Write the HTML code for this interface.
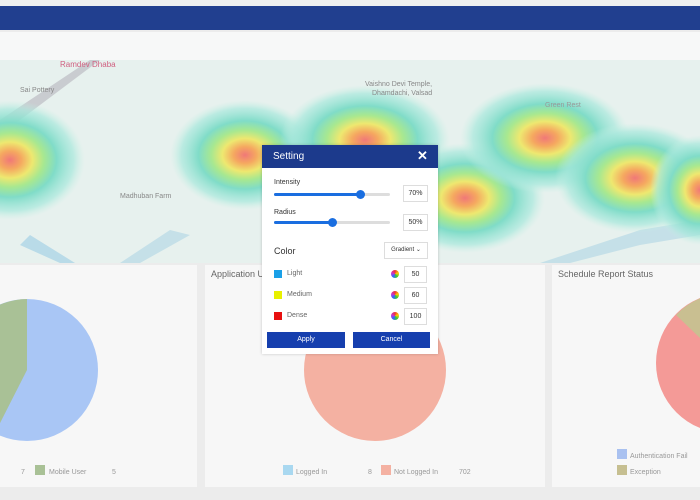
<!DOCTYPE html>
<html><head><style>
body{margin:0;width:700px;height:500px;overflow:hidden;background:#ececec;font-family:"Liberation Sans",sans-serif;position:relative}
.a{position:absolute}
.t{color:#666;font-size:9px}
</style></head><body>
<div class="a" style="left:0;top:0;width:700px;height:6px;background:#eef0f0"></div>
<div class="a" style="left:0;top:6px;width:700px;height:24px;background:#213f8f"></div>
<div class="a" style="left:0;top:32px;width:700px;height:28px;background:#f7f8f8"></div>
<svg class="a" style="left:0;top:60px" width="700" height="203">
<defs>
<radialGradient id="h"><stop offset="0" stop-color="#f07878"/><stop offset="0.15" stop-color="#f5a860"/><stop offset="0.3" stop-color="#eee870"/><stop offset="0.45" stop-color="#a8e890"/><stop offset="0.62" stop-color="#80dcc8"/><stop offset="0.85" stop-color="#a8e8dc" stop-opacity="0.7"/><stop offset="1" stop-color="#c8f0e4" stop-opacity="0"/></radialGradient>
</defs>
<rect width="700" height="203" fill="#e7f1ee"/>
<path d="M0 60 L90 0 L100 0 L0 75Z" fill="#c9ccd0"/>
<path d="M20 185 L60 203 L75 203 L30 175Z" fill="#b9dbe8"/>
<path d="M120 203 L170 170 L190 175 L140 203Z" fill="#c5e0e8"/>
<path d="M540 203 L640 170 L700 160 L700 175 L640 185 L570 203Z" fill="#c5e0e8"/>
<ellipse cx="10" cy="100" rx="75" ry="60" fill="url(#h)"/>
<ellipse cx="245" cy="95" rx="75" ry="55" fill="url(#h)"/>
<ellipse cx="365" cy="80" rx="85" ry="55" fill="url(#h)"/>
<ellipse cx="465" cy="138" rx="80" ry="55" fill="url(#h)"/>
<ellipse cx="545" cy="78" rx="85" ry="55" fill="url(#h)"/>
<ellipse cx="635" cy="118" rx="80" ry="55" fill="url(#h)"/>
<ellipse cx="700" cy="130" rx="50" ry="55" fill="url(#h)"/>
<text x="60" y="7" font-size="8" fill="#d06080" font-family="Liberation Sans">Ramdev Dhaba</text>
<text x="20" y="32" font-size="7" fill="#888" font-family="Liberation Sans">Sai Pottery</text>
<text x="120" y="138" font-size="7" fill="#888" font-family="Liberation Sans">Madhuban Farm</text>
<text x="365" y="26" font-size="7" fill="#888" font-family="Liberation Sans">Vaishno Devi Temple,</text>
<text x="372" y="35" font-size="7" fill="#888" font-family="Liberation Sans">Dhamdachi, Valsad</text>
<text x="545" y="47" font-size="7" fill="#999" font-family="Liberation Sans">Green Rest</text>
</svg>
<div class="a" style="left:0;top:265px;width:197px;height:222px;background:#f7f7f7"></div>
<div class="a" style="left:205px;top:265px;width:340px;height:222px;background:#f7f7f7"></div>
<div class="a" style="left:552px;top:265px;width:148px;height:222px;background:#f7f7f7"></div>
<div class="a t" style="left:211px;top:269px;font-size:9px">Application Usage</div>
<div class="a t" style="left:558px;top:269px;font-size:9px">Schedule Report Status</div>
<svg class="a" style="left:0;top:265px" width="700" height="222">
<circle cx="27" cy="105" r="71" fill="#a9c6f5"/>
<path d="M27 105 L27 34 A71 71 0 0 0 -5 168 Z" fill="#a9c196"/>
<circle cx="375" cy="105" r="71" fill="#f4b1a2"/>
<line x1="375" y1="34" x2="375" y2="65" stroke="#fff" stroke-width="1"/>
<circle cx="726" cy="98" r="70" fill="#f49a97"/>
<path d="M726 98 L726 28 A70 70 0 0 0 676 50 Z" fill="#c9bf91"/>
<rect x="35" y="200" width="10" height="10" fill="#a9c196"/>
<rect x="283" y="200" width="10" height="10" fill="#a9d8f0"/>
<rect x="381" y="200" width="10" height="10" fill="#f4b1a2"/>
<rect x="617" y="184" width="10" height="10" fill="#a9c1f0"/>
<rect x="617" y="200" width="10" height="10" fill="#c6bf91"/>
<g font-family="Liberation Sans" font-size="7" fill="#999">
<text x="21" y="209">7</text><text x="49" y="209">Mobile User</text><text x="112" y="209">5</text>
<text x="296" y="209">Logged In</text><text x="368" y="209">8</text><text x="394" y="209">Not Logged In</text><text x="459" y="209">702</text>
<text x="630" y="193">Authentication Fail</text><text x="630" y="209">Exception</text>
</g>
</svg>
<div class="a" style="left:262px;top:145px;width:176px;height:209px;background:#fff;box-shadow:0 0 3px rgba(0,0,0,.2)"></div>
<div class="a" style="left:262px;top:145px;width:176px;height:23px;background:#1c3a8c"></div>
<div class="a" style="left:273px;top:151px;color:#fff;font-size:10px">Setting</div>
<div class="a" style="left:417px;top:148px;color:#fff;font-size:13px;font-weight:bold">✕</div>
<div class="a" style="left:274px;top:179px;font-size:7px;color:#333">Intensity</div>
<div class="a" style="left:274px;top:193px;width:116px;height:3px;background:#ddd;border-radius:2px"></div>
<div class="a" style="left:274px;top:193px;width:86px;height:3px;background:#1a6ee0;border-radius:2px"></div>
<div class="a" style="left:356px;top:190px;width:9px;height:9px;background:#1a6ee0;border-radius:50%"></div>
<div class="a" style="left:403px;top:185px;width:23px;height:15px;border:1px solid #ddd;font-size:7px;line-height:15px;text-align:center;color:#333">70%</div>
<div class="a" style="left:274px;top:209px;font-size:7px;color:#333">Radius</div>
<div class="a" style="left:274px;top:221px;width:116px;height:3px;background:#ddd;border-radius:2px"></div>
<div class="a" style="left:274px;top:221px;width:58px;height:3px;background:#1a6ee0;border-radius:2px"></div>
<div class="a" style="left:328px;top:218px;width:9px;height:9px;background:#1a6ee0;border-radius:50%"></div>
<div class="a" style="left:403px;top:214px;width:23px;height:15px;border:1px solid #ddd;font-size:7px;line-height:15px;text-align:center;color:#333">50%</div>
<div class="a" style="left:274px;top:246px;font-size:9px;color:#333">Color</div>
<div class="a" style="left:384px;top:242px;width:42px;height:15px;border:1px solid #ddd;font-size:6px;line-height:15px;text-align:center;color:#333">Gradient ⌄</div>
<div class="a" style="left:274px;top:270px;width:8px;height:8px;background:#1aa0e8"></div>
<div class="a" style="left:274px;top:291px;width:8px;height:8px;background:#e8f000"></div>
<div class="a" style="left:274px;top:312px;width:8px;height:8px;background:#e81010"></div>
<div class="a" style="left:287px;top:270px;font-size:7px;color:#666">Light</div>
<div class="a" style="left:287px;top:291px;font-size:7px;color:#666">Medium</div>
<div class="a" style="left:287px;top:312px;font-size:7px;color:#666">Dense</div>
<div class="a" style="left:391px;top:270px;width:8px;height:8px;border-radius:50%;background:conic-gradient(#e33,#fc0,#3c3,#36f,#c3c,#e33)"></div>
<div class="a" style="left:391px;top:291px;width:8px;height:8px;border-radius:50%;background:conic-gradient(#e33,#fc0,#3c3,#36f,#c3c,#e33)"></div>
<div class="a" style="left:391px;top:312px;width:8px;height:8px;border-radius:50%;background:conic-gradient(#e33,#fc0,#3c3,#36f,#c3c,#e33)"></div>
<div class="a" style="left:404px;top:266px;width:21px;height:15px;border:1px solid #ddd;font-size:7px;line-height:15px;text-align:center;color:#333">50</div>
<div class="a" style="left:404px;top:287px;width:21px;height:15px;border:1px solid #ddd;font-size:7px;line-height:15px;text-align:center;color:#333">60</div>
<div class="a" style="left:404px;top:308px;width:21px;height:15px;border:1px solid #ddd;font-size:7px;line-height:15px;text-align:center;color:#333">100</div>
<div class="a" style="left:267px;top:332px;width:78px;height:16px;background:#163fae;color:#fff;font-size:7px;line-height:16px;text-align:center">Apply</div>
<div class="a" style="left:353px;top:332px;width:77px;height:16px;background:#163fae;color:#fff;font-size:7px;line-height:16px;text-align:center">Cancel</div>
</body></html>
